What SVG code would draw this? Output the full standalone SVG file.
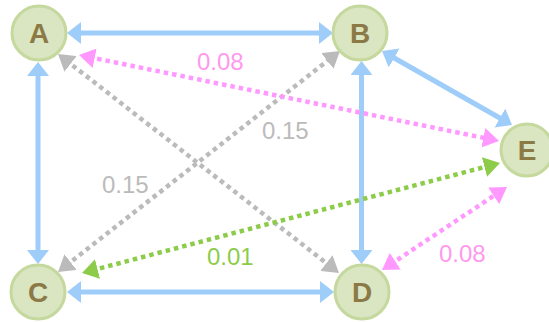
<svg xmlns="http://www.w3.org/2000/svg" width="549" height="322" viewBox="0 0 549 322">
<style>
.node circle{fill:#dae5c1;stroke:#c5d89d;stroke-width:3}
.node text{font-family:"Liberation Sans",Arial,sans-serif;font-weight:bold;font-size:28px;fill:#8b7a46;text-anchor:middle}
.lbl{font-family:"Liberation Sans",Arial,sans-serif;font-size:24px}
.solid{stroke:#9fcdfa;stroke-width:5;fill:none}
.dot{stroke-width:4.5;stroke-dasharray:4.5 4;fill:none}
</style>
<defs>
<marker id="mb" markerUnits="userSpaceOnUse" markerWidth="14" markerHeight="22" refX="4" refY="11" orient="auto-start-reverse" viewBox="0 0 14 22"><path d="M0,0L14,11L0,22z" fill="#9fcdfa"/></marker>
<marker id="mg" markerUnits="userSpaceOnUse" markerWidth="16" markerHeight="20" refX="6" refY="10" orient="auto-start-reverse" viewBox="0 0 16 20"><path d="M0,0L16,10L0,20z" fill="#bbbbbb"/></marker>
<marker id="mp" markerUnits="userSpaceOnUse" markerWidth="16" markerHeight="20" refX="6" refY="10" orient="auto-start-reverse" viewBox="0 0 16 20"><path d="M0,0L16,10L0,20z" fill="#ff99ff"/></marker>
<marker id="mn" markerUnits="userSpaceOnUse" markerWidth="16" markerHeight="20" refX="6" refY="10" orient="auto-start-reverse" viewBox="0 0 16 20"><path d="M0,0L16,10L0,20z" fill="#8dcc4a"/></marker>
</defs>
<g id="connectors">
<line class="solid" x1="77" y1="33" x2="323" y2="33" marker-start="url(#mb)" marker-end="url(#mb)"/>
<line class="solid" x1="38" y1="72" x2="38" y2="254" marker-start="url(#mb)" marker-end="url(#mb)"/>
<line class="solid" x1="77" y1="292" x2="324" y2="292" marker-start="url(#mb)" marker-end="url(#mb)"/>
<line class="solid" x1="361.5" y1="71" x2="361.5" y2="254" marker-start="url(#mb)" marker-end="url(#mb)"/>
<line class="solid" x1="390.7" y1="56" x2="503.3" y2="120" marker-start="url(#mb)" marker-end="url(#mb)"/>
<line class="dot" stroke="#bbbbbb" x1="65.9" y1="60.2" x2="331.1" y2="266.8" marker-start="url(#mg)" marker-end="url(#mg)"/>
<line class="dot" stroke="#bbbbbb" x1="65.9" y1="265.8" x2="332.1" y2="57.2" marker-start="url(#mg)" marker-end="url(#mg)"/>
<line class="dot" stroke="#ff99ff" x1="88.8" y1="57" x2="489.2" y2="139" marker-start="url(#mp)" marker-end="url(#mp)"/>
<line class="dot" stroke="#ff99ff" x1="390.3" y1="264.5" x2="498.7" y2="192.5" marker-start="url(#mp)" marker-end="url(#mp)"/>
<line class="dot" stroke="#8dcc4a" x1="91.7" y1="270.5" x2="490.3" y2="165.5" marker-start="url(#mn)" marker-end="url(#mn)"/>
<text class="lbl" x="197" y="70" fill="#ff99ee">0.08</text>
<text class="lbl" x="262" y="139" fill="#bbbbbb">0.15</text>
<text class="lbl" x="102" y="193" fill="#bbbbbb">0.15</text>
<text class="lbl" x="207" y="265" fill="#8dcc4a">0.01</text>
<text class="lbl" x="439" y="262" fill="#ff99ee">0.08</text>
</g>
<g id="A" class="node"><circle cx="39" cy="33" r="27"/><text x="39" y="43">A</text></g>
<g id="B" class="node"><circle cx="360" cy="33" r="27"/><text x="360" y="43">B</text></g>
<g id="C" class="node"><circle cx="38" cy="292" r="27"/><text x="38" y="302">C</text></g>
<g id="D" class="node"><circle cx="362" cy="292" r="27"/><text x="362" y="302">D</text></g>
<g id="E" class="node"><circle cx="527" cy="150" r="26"/><text x="527" y="160">E</text></g>
</svg>
